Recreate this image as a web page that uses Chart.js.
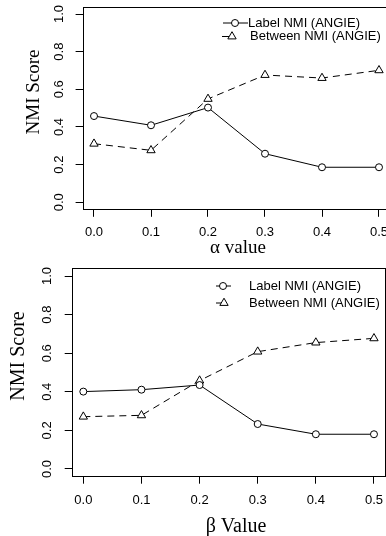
<!DOCTYPE html>
<html>
<head>
<meta charset="utf-8">
<script src="https://cdn.jsdelivr.net/npm/chart.js@4.4.1/dist/chart.umd.min.js"></script>
<style>
  html, body { margin: 0; padding: 0; background: #fff; overflow: hidden; }
  body { width: 386px; height: 536px; position: relative; }
  .painel { position: absolute; left: 0; width: 400px; }
  #painel-alfa { top: 0; height: 262px; }
  #painel-beta { top: 262px; height: 274px; }
</style>
</head>
<body>
<div class="painel" id="painel-alfa"><canvas id="grafico-alfa"></canvas></div>
<div class="painel" id="painel-beta"><canvas id="grafico-beta"></canvas></div>
<script>
// valores
const valoresX = [0.0, 0.1, 0.2, 0.3, 0.4, 0.5];
const ticksX = [0.0, 0.1, 0.2, 0.3, 0.4, 0.5];
const ticksY = [0.0, 0.2, 0.4, 0.6, 0.8, 1.0];
const nomesSeries = ['Label NMI (ANGIE)', 'Between NMI (ANGIE)'];

const alfaLabel = [0.458, 0.409, 0.503, 0.258, 0.186, 0.186];
const alfaBetween = [0.311, 0.276, 0.549, 0.676, 0.660, 0.701];

const betaLabel = [0.401, 0.411, 0.435, 0.233, 0.180, 0.180];
const betaBetween = [0.271, 0.278, 0.458, 0.608, 0.655, 0.677];

const fonteSans = '"Liberation Sans", Arial, sans-serif';
const fonteSerif = '"Liberation Serif", "Times New Roman", serif';

// caixa em volta da area do grafico (estilo R)
const moldura = {
  id: 'moldura',
  beforeDatasetsDraw(chart) {
    const { ctx, chartArea: a } = chart;
    ctx.save();
    ctx.strokeStyle = '#000';
    ctx.lineWidth = 1;
    const l = Math.round(a.left) + 0.5, t = Math.round(a.top) + 0.5;
    const r = Math.round(a.right) - 0.5, b = Math.round(a.bottom) - 0.5;
    ctx.strokeRect(l, t, r - l, b - t);
    ctx.restore();
  }
};

// titulos dos eixos
const titulosR = {
  id: 'titulosR',
  afterDraw(chart, args, o) {
    const ctx = chart.ctx;
    ctx.save();
    ctx.fillStyle = '#000';
    ctx.font = o.tamanho + 'px ' + fonteSerif;
    ctx.textAlign = 'center';
    ctx.textBaseline = 'middle';
    ctx.fillText(o.textoX, o.xX, o.yX);
    ctx.translate(o.xY, o.yY);
    ctx.rotate(-Math.PI / 2);
    ctx.fillText(o.textoY, 0, 0);
    ctx.restore();
  }
};

// legenda no canto superior direito
const legendaR = {
  id: 'legendaR',
  afterDraw(chart, args, o) {
    const ctx = chart.ctx;
    ctx.save();
    ctx.lineWidth = 1;
    o.linhas.forEach((l, i) => {
      const ds = chart.data.datasets[i];
      ctx.strokeStyle = '#000';
      ctx.setLineDash(ds.borderDash || []);
      ctx.beginPath();
      ctx.moveTo(l.x0, l.y);
      ctx.lineTo(l.x1, l.y);
      ctx.stroke();
      ctx.setLineDash([]);
      ctx.fillStyle = '#fff';
      Chart.helpers.drawPoint(ctx, { pointStyle: ds.pointStyle, radius: ds.pointRadius, borderWidth: 1 }, l.xm, l.y);
      ctx.fillStyle = '#000';
      ctx.font = '13px ' + fonteSans;
      ctx.textAlign = 'left';
      ctx.textBaseline = 'middle';
      ctx.fillText(ds.label, l.xt, l.y);
    });
    ctx.restore();
  }
};

function montarGrafico(id, labelVals, betweenVals, cfg) {
  const ctx = document.getElementById(id).getContext('2d');
  return new Chart(ctx, {
    type: 'line',
    data: {
      datasets: [
        {
          label: nomesSeries[0],
          data: valoresX.map((x, i) => ({ x: x, y: labelVals[i] })),
          borderColor: '#000',
          borderWidth: 1,
          pointStyle: 'circle',
          pointRadius: 3.5,
          pointBorderWidth: 1,
          pointBackgroundColor: '#fff',
          pointBorderColor: '#000',
          tension: 0
        },
        {
          label: nomesSeries[1],
          data: valoresX.map((x, i) => ({ x: x, y: betweenVals[i] })),
          borderColor: '#000',
          borderWidth: 1,
          borderDash: [7, 5],
          pointStyle: 'triangle',
          pointRadius: 4.8,
          pointBorderWidth: 1,
          pointBackgroundColor: '#fff',
          pointBorderColor: '#000',
          tension: 0
        }
      ]
    },
    options: {
      responsive: true,
      maintainAspectRatio: false,
      animation: false,
      layout: { padding: { top: cfg.topo, right: cfg.direita, left: 0, bottom: 0 } },
      plugins: {
        legend: { display: false },
        tooltip: { enabled: false },
        titulosR: cfg.titulos,
        legendaR: { linhas: cfg.legenda }
      },
      scales: {
        x: {
          type: 'linear',
          min: -0.02,
          max: 0.52,
          afterBuildTicks: s => { s.ticks = ticksX.map(v => ({ value: v })); },
          afterFit: s => {
            s.height = cfg.alturaX;
            s.paddingLeft = 0; s.paddingRight = 0;
          },
          ticks: {
            callback: v => v.toFixed(1),
            color: '#000',
            font: { family: fonteSans, size: 13 },
            padding: cfg.padX,
            autoSkip: false,
            maxRotation: 0
          },
          grid: { drawOnChartArea: false, drawTicks: true, tickLength: 7, tickColor: '#000', tickWidth: 1 },
          border: { display: false }
        },
        y: {
          min: -0.04,
          max: 1.04,
          afterBuildTicks: s => { s.ticks = ticksY.map(v => ({ value: v })); },
          afterFit: s => {
            s.width = cfg.larguraY;
            s.paddingTop = 0; s.paddingBottom = 0;
          },
          ticks: {
            callback: v => v.toFixed(1),
            color: '#000',
            font: { family: fonteSans, size: 13 },
            padding: cfg.padY,
            autoSkip: false,
            minRotation: 90,
            maxRotation: 90,
            crossAlign: 'center'
          },
          grid: { drawOnChartArea: false, drawTicks: true, tickLength: 7, tickColor: '#000', tickWidth: 1 },
          border: { display: false }
        }
      }
    },
    plugins: [moldura, titulosR, legendaR]
  });
}

montarGrafico('grafico-alfa', alfaLabel, alfaBetween, {
  topo: 6.5, direita: 9.6, alturaX: 52.2, larguraY: 82.6, padX: 8, padY: 7,
  titulos: { textoX: 'α value', xX: 238, yX: 248, textoY: 'NMI Score', xY: 34, yY: 92, tamanho: 19 },
  legenda: [
    { y: 23, x0: 223, x1: 248, xm: 235, xt: 248 },
    { y: 36.5, x0: 222, x1: 232, xm: 232, xt: 250 }
  ]
});

montarGrafico('grafico-beta', betaLabel, betaBetween, {
  topo: 6.3, direita: 14.4, alturaX: 59.3, larguraY: 71.7, padX: 9, padY: 8,
  titulos: { textoX: 'β Value', xX: 236, yX: 265, textoY: 'NMI Score', xY: 19, yY: 94, tamanho: 20 },
  legenda: [
    { y: 24, x0: 216, x1: 231, xm: 223, xt: 249 },
    { y: 41, x0: 216, x1: 224, xm: 224, xt: 249 }
  ]
});
</script>
</body>
</html>
